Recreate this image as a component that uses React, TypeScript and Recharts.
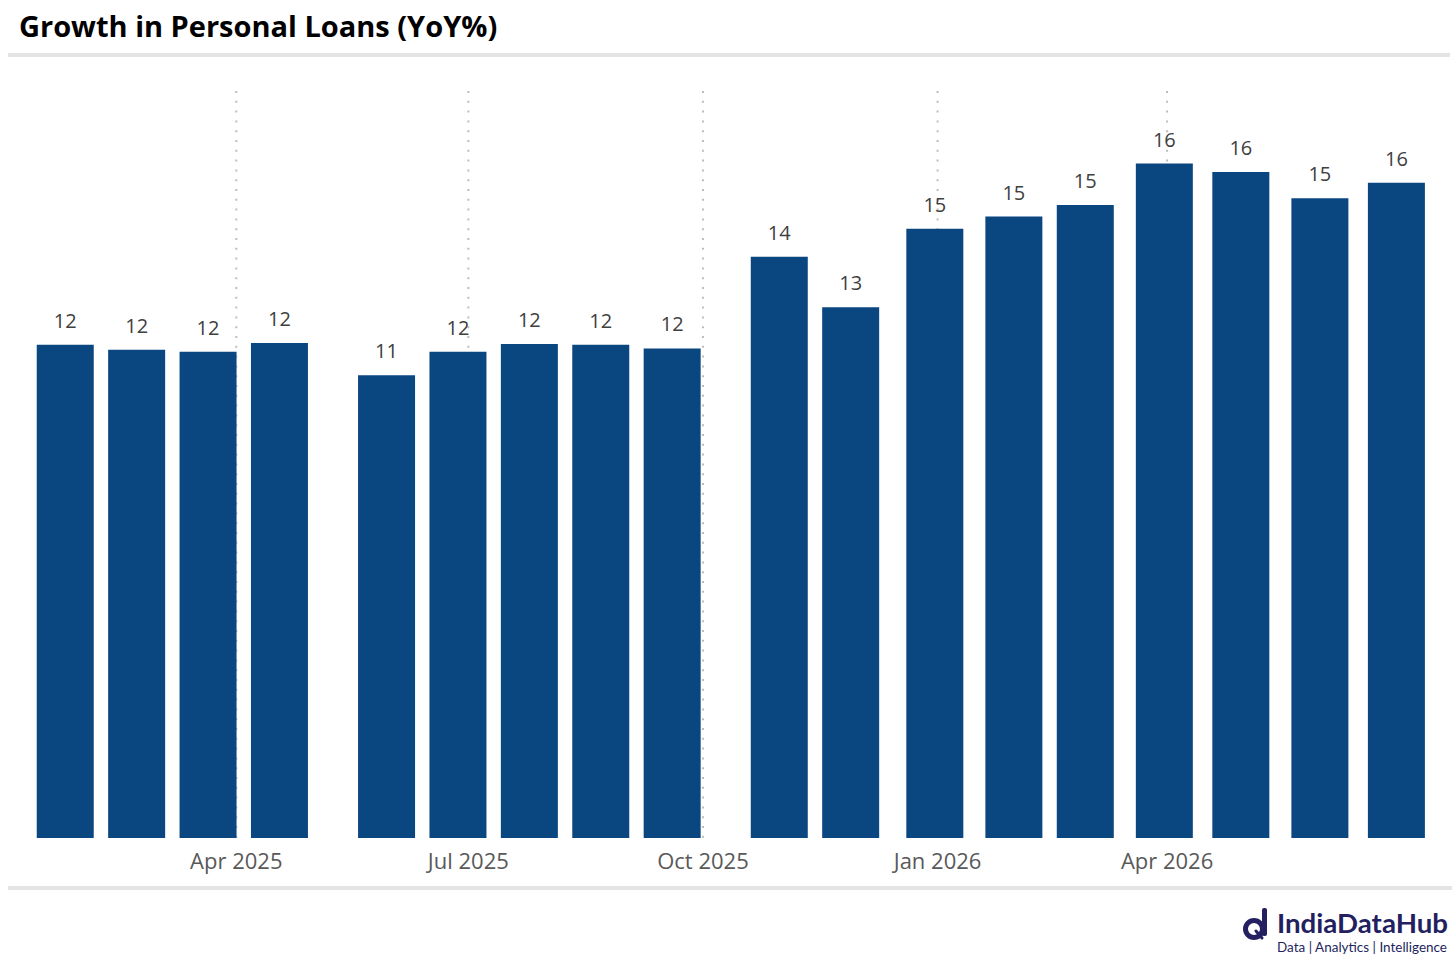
import { BarChart, Bar, XAxis, YAxis, CartesianGrid, LabelList } from "recharts";

// reporting dates (fortnightly Fridays, then month ends)
const periods = [
  "2025-01-24", "2025-02-21", "2025-03-21", "2025-04-18",
  "2025-05-30", "2025-06-27", "2025-07-25", "2025-08-22", "2025-09-19",
  "2025-10-31", "2025-11-28", "2025-12-31",
  "2026-01-31", "2026-02-28", "2026-03-31", "2026-04-30", "2026-05-31", "2026-06-30",
];
const growth = [
  11.82, 11.7, 11.65, 11.86,
  11.09, 11.65, 11.84, 11.82, 11.73,
  13.93, 12.72, 14.6,
  14.89, 15.17, 16.16, 15.96, 15.33, 15.7,
];
const tickDates = ["2025-04-01", "2025-07-01", "2025-10-01", "2026-01-01", "2026-04-01"];
const tickLabels = ["Apr 2025", "Jul 2025", "Oct 2025", "Jan 2026", "Apr 2026"];

const DAY = 86400000;
const toTs = (s: string) => Date.parse(s + "T00:00:00Z");

const data = periods.map((p, i) => ({ date: toTs(p), value: growth[i] }));
const ticks = tickDates.map(toTs);
const xStart = Date.UTC(2025, 0, 9, 17);
const xDomain: [number, number] = [xStart, xStart + 549 * DAY];

const FONT = "'Open Sans', 'Noto Sans', sans-serif";

export default function App() {
  return (
    <div
      style={{
        position: "absolute",
        left: 0,
        top: 0,
        width: 1456,
        height: 964,
        background: "#ffffff",
        fontFamily: FONT,
        overflow: "hidden",
      }}
    >
      <div
        style={{
          position: "absolute",
          left: 19,
          top: 6,
          fontSize: 29,
          fontWeight: 700,
          color: "#000000",
          whiteSpace: "nowrap",
        }}
      >
        Growth in Personal Loans (YoY%)
      </div>
      <div style={{ position: "absolute", left: 8, top: 53, width: 1442, height: 4, background: "#e4e4e4" }} />

      <div style={{ position: "absolute", left: 0, top: 0 }}>
        <BarChart
          width={1456}
          height={964}
          data={data}
          margin={{ top: 91, right: 27, bottom: 86, left: 29 }}
        >
          <CartesianGrid
            horizontal={false}
            syncWithTicks
            stroke="#bdbdbd"
            strokeWidth={2}
            strokeDasharray="2 7.8"
          />
          <XAxis
            dataKey="date"
            type="number"
            scale="linear"
            domain={xDomain}
            allowDataOverflow
            ticks={ticks}
            interval={0}
            tickFormatter={(v: number) => tickLabels[ticks.indexOf(v)] ?? ""}
            axisLine={false}
            tickLine={false}
            tickSize={0}
            tickMargin={15}
            height={40}
            tick={{ fill: "#595959", fontSize: 22, fontFamily: FONT }}
          />
          <YAxis hide domain={[0, 17.9]} />
          <Bar dataKey="value" fill="#0a4680" barSize={57} isAnimationActive={false}>
            <LabelList
              dataKey="value"
              position="top"
              offset={17}
              formatter={(v: number) => Math.round(v)}
              style={{ fill: "#404040", fontSize: 20, fontFamily: FONT }}
            />
          </Bar>
        </BarChart>
      </div>

      <div style={{ position: "absolute", left: 8, top: 886, width: 1444, height: 4, background: "#e4e4e4" }} />

      <svg
        style={{ position: "absolute", left: 1236, top: 900 }}
        width={220}
        height={60}
        viewBox="0 0 220 60"
      >
        <circle cx={18} cy={29} r={8.5} fill="none" stroke="#231f60" strokeWidth={5} />
        <rect x={26} y={8} width={5} height={28} rx={2} fill="#231f60" />
        <line x1={20} y1={31} x2={26} y2={38} stroke="#231f60" strokeWidth={3} strokeLinecap="round" />
        <text
          x={41}
          y={33}
          fontFamily="Lato, sans-serif"
          fontWeight={700}
          fontSize={27}
          fill="#231f60"
          textLength={171}
          lengthAdjust="spacingAndGlyphs"
        >
          IndiaDataHub
        </text>
        <text
          x={41}
          y={52}
          fontFamily="Lato, sans-serif"
          fontSize={13}
          fill="#231f60"
          textLength={170}
          lengthAdjust="spacingAndGlyphs"
        >
          Data | Analytics | Intelligence
        </text>
      </svg>
    </div>
  );
}
